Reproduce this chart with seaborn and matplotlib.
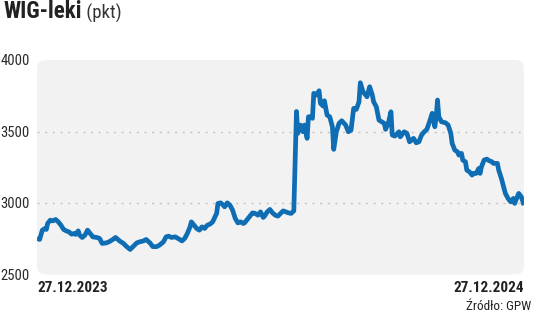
import numpy as np
import pandas as pd
import matplotlib
matplotlib.use("Agg")
import matplotlib.pyplot as plt
from matplotlib.patches import FancyBboxPatch
from matplotlib import font_manager
import seaborn as sns

# ---- data ----
start_date = "2023-12-27"
day_offsets = [0, 2, 4, 6, 7, 8, 10, 12, 14, 16, 18, 20, 22, 24, 26, 28, 29, 31, 32, 34,
               36, 38, 40, 42, 45, 47, 49, 52, 54, 57, 59, 60, 62, 65, 67, 70, 72, 75, 77, 80,
               82, 85, 87, 90, 92, 95, 97, 99, 101, 104, 106, 109, 111, 113, 115, 116, 118, 120, 122, 124,
               126, 128, 130, 132, 135, 136, 138, 140, 141, 143, 145, 147, 149, 151, 153, 155, 156, 158, 160, 162,
               164, 166, 168, 170, 171, 173, 175, 177, 179, 181, 183, 185, 189, 191, 193, 195, 196, 198, 200, 201,
               203, 204, 206, 207, 208, 210, 212, 213, 215, 216, 218, 220, 222, 223, 225, 227, 229, 232, 234, 236,
               238, 240, 242, 243, 245, 247, 248, 250, 252, 253, 255, 257, 259, 261, 262, 264, 266, 267, 269, 272,
               273, 276, 278, 280, 283, 285, 287, 289, 291, 293, 295, 297, 298, 299, 300, 301, 302, 304, 307, 309,
               311, 312, 314, 316, 317, 319, 320, 322, 323, 325, 327, 328, 330, 332, 333, 334, 336, 338, 340, 342,
               343, 346, 347, 349, 351, 352, 354, 356, 358, 359, 361, 362, 364, 366]
wig_leki = [2753, 2745, 2810, 2822, 2815, 2857, 2880, 2875, 2885, 2868, 2845, 2815, 2805, 2798, 2782, 2787, 2780, 2805, 2775, 2759,
            2775, 2810, 2787, 2763, 2759, 2752, 2717, 2721, 2728, 2745, 2759, 2752, 2735, 2717, 2698, 2675, 2693, 2721, 2728, 2735,
            2745, 2720, 2695, 2695, 2705, 2728, 2763, 2768, 2759, 2763, 2752, 2735, 2752, 2787, 2833, 2868, 2845, 2822, 2810, 2833,
            2822, 2845, 2852, 2868, 2927, 2997, 3001, 2985, 2973, 3001, 2985, 2950, 2892, 2861, 2868, 2857, 2861, 2885, 2908, 2931,
            2927, 2915, 2938, 2899, 2908, 2938, 2955, 2931, 2915, 2908, 2927, 2945, 2931, 2927, 2945, 3640, 3487, 3545, 3498, 3545,
            3452, 3603, 3603, 3592, 3767, 3755, 3785, 3697, 3678, 3715, 3615, 3603, 3533, 3375, 3498, 3557, 3575, 3545, 3498, 3510,
            3662, 3655, 3708, 3841, 3778, 3755, 3743, 3813, 3755, 3708, 3673, 3580, 3568, 3557, 3515, 3557, 3638, 3475, 3468, 3498,
            3463, 3498, 3487, 3428, 3452, 3421, 3428, 3475, 3498, 3515, 3568, 3627, 3580, 3533, 3603, 3720, 3603, 3568, 3561, 3545,
            3487, 3417, 3370, 3358, 3335, 3347, 3300, 3288, 3230, 3218, 3195, 3207, 3207, 3242, 3207, 3253, 3300, 3307, 3295, 3288,
            3277, 3277, 3230, 3172, 3102, 3067, 3032, 3008, 3032, 2997, 3043, 3067, 3043, 2985]
y_ticks = [2500, 3000, 3500, 4000]
grid_values = [3000, 3500]
x_labels = ["27.12.2023", "27.12.2024"]
title_bold = "WIG-leki"
title_unit = " (pkt)"
source = "Źródło: GPW"

dates = pd.Timestamp(start_date) + pd.to_timedelta(day_offsets, unit="D")
df = pd.DataFrame({"date": dates, "value": wig_leki})

sns.set_theme(style="white")
installed = {f.name for f in font_manager.fontManager.ttflist}
fam = "Roboto Condensed" if "Roboto Condensed" in installed else "Roboto"
plt.rcParams["font.family"] = [fam, "DejaVu Sans"]

fig = plt.figure(figsize=(5.36, 3.17), dpi=100)
fig.patch.set_facecolor("white")
ax = fig.add_axes([37 / 536, 1 - 274.5 / 317, 487 / 536, (274.5 - 60) / 317])
ax.set_facecolor("none")

panel = FancyBboxPatch((0, 0), 1, 1, boxstyle="round,pad=0,rounding_size=0.018",
                       transform=ax.transAxes, facecolor="#f2f2f2", edgecolor="none",
                       zorder=0, mutation_aspect=487 / 214.5, clip_on=False)
ax.add_patch(panel)

for g in grid_values:
    ax.axhline(g, color="#c4c4c4", lw=1.0, ls=(0, (1.5, 4)), zorder=1)

sns.lineplot(data=df, x="date", y="value", ax=ax, color="#0f6db3", lw=3.4,
             zorder=3, solid_joinstyle="round", solid_capstyle="butt")

ax.set_xlim(dates[0], dates[-1])
ax.set_ylim(2500, 4000)
ax.set_yticks(y_ticks)
ax.set_yticklabels([str(t) for t in y_ticks], fontsize=10.5, color="#2a2a2a")
ax.tick_params(axis="y", length=0, pad=5)
ax.set_xticks([])
ax.set_xlabel("")
ax.set_ylabel("")
for s in ax.spines.values():
    s.set_visible(False)

ax.text(0, -0.065, x_labels[0], transform=ax.transAxes, ha="left", va="center",
        fontsize=11, fontweight="bold", color="#222222")
ax.text(1, -0.065, x_labels[1], transform=ax.transAxes, ha="right", va="center",
        fontsize=11, fontweight="bold", color="#222222")

t = fig.text(3 / 536, 1 - 12 / 317, title_bold, ha="left", va="center",
             fontsize=16.5, fontweight="bold", color="#222222")
fig.canvas.draw()
bb = t.get_window_extent()
fig.text(bb.x1 / 536, 1 - 13 / 317, title_unit, ha="left", va="center",
         fontsize=13.5, color="#333333")

fig.text(531 / 536, 1 - 306 / 317, source, ha="right", va="center",
         fontsize=9.5, color="#222222")

fig.savefig("out.png", dpi=100)
